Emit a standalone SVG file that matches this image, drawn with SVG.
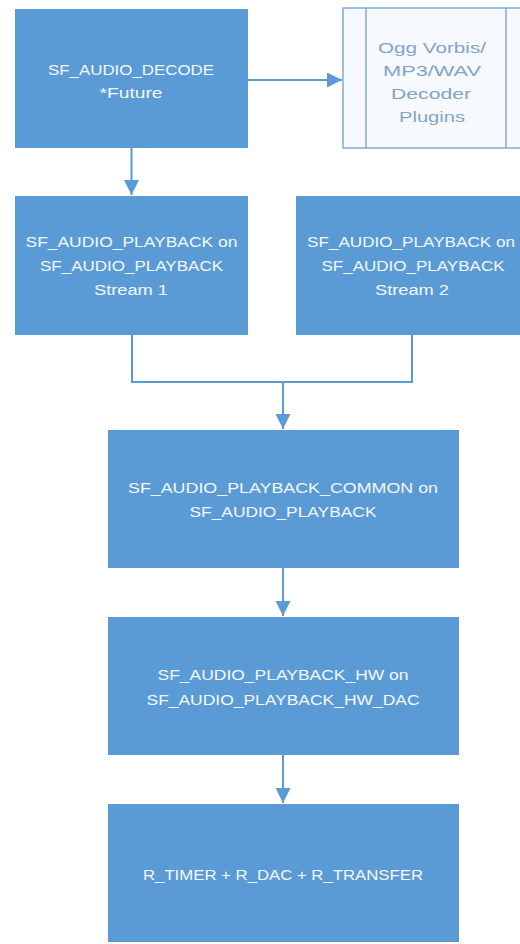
<svg xmlns="http://www.w3.org/2000/svg" width="520" height="944" viewBox="0 0 520 944">
  <style>
    .box { fill: #5b9bd5; }
    .lbl { font-family: "Liberation Sans", Arial, sans-serif; font-size: 14px; fill: #f4f8fc; text-anchor: middle; }
    .plug { fill: #f6f9fd; stroke: #6f9fd3; stroke-width: 1.3; }
    .plbl { font-family: "Liberation Sans", Arial, sans-serif; font-size: 14px; fill: #84a3c8; text-anchor: middle; }
    .wire { fill: none; stroke: #5b9bd5; stroke-width: 2; }
  </style>
  <defs>
    <marker id="arrow" viewBox="0 0 10 10" refX="10" refY="5" markerWidth="7.5" markerHeight="7.5" orient="auto" markerUnits="strokeWidth">
      <path d="M0,0 L10,5 L0,10 Z" fill="#5b9bd5"/>
    </marker>
  </defs>
  <rect width="520" height="944" fill="#ffffff"/>

  <g id="decode">
    <rect class="box" x="15" y="9" width="233" height="139"/>
    <text class="lbl" x="131" y="75" textLength="166" lengthAdjust="spacingAndGlyphs">SF_AUDIO_DECODE</text>
    <text class="lbl" x="131" y="98" textLength="63" lengthAdjust="spacingAndGlyphs">*Future</text>
  </g>

  <g id="plugins">
    <rect class="plug" x="343" y="8" width="200" height="140"/>
    <line class="plug" x1="366" y1="8" x2="366" y2="148"/>
    <line class="plug" x1="506" y1="8" x2="506" y2="148"/>
    <text class="plbl" x="432" y="53" textLength="108" lengthAdjust="spacingAndGlyphs">Ogg Vorbis/</text>
    <text class="plbl" x="432" y="76" textLength="98" lengthAdjust="spacingAndGlyphs">MP3/WAV</text>
    <text class="plbl" x="431" y="99" textLength="80" lengthAdjust="spacingAndGlyphs">Decoder</text>
    <text class="plbl" x="432" y="122" textLength="66" lengthAdjust="spacingAndGlyphs">Plugins</text>
  </g>

  <g id="stream1">
    <rect class="box" x="15" y="196" width="233" height="139"/>
    <text class="lbl" x="131.5" y="247" textLength="212" lengthAdjust="spacingAndGlyphs">SF_AUDIO_PLAYBACK on</text>
    <text class="lbl" x="131.5" y="271" textLength="183" lengthAdjust="spacingAndGlyphs">SF_AUDIO_PLAYBACK</text>
    <text class="lbl" x="131" y="295" textLength="74" lengthAdjust="spacingAndGlyphs">Stream 1</text>
  </g>

  <g id="stream2">
    <rect class="box" x="296" y="196" width="233" height="139"/>
    <text class="lbl" x="411" y="247" textLength="208" lengthAdjust="spacingAndGlyphs">SF_AUDIO_PLAYBACK on</text>
    <text class="lbl" x="413" y="271" textLength="183" lengthAdjust="spacingAndGlyphs">SF_AUDIO_PLAYBACK</text>
    <text class="lbl" x="412" y="295" textLength="74" lengthAdjust="spacingAndGlyphs">Stream 2</text>
  </g>

  <g id="common">
    <rect class="box" x="108" y="430" width="351" height="138"/>
    <text class="lbl" x="283" y="493" textLength="310" lengthAdjust="spacingAndGlyphs">SF_AUDIO_PLAYBACK_COMMON on</text>
    <text class="lbl" x="283" y="517" textLength="187" lengthAdjust="spacingAndGlyphs">SF_AUDIO_PLAYBACK</text>
  </g>

  <g id="hw">
    <rect class="box" x="108" y="617" width="351" height="138"/>
    <text class="lbl" x="283" y="680" textLength="251" lengthAdjust="spacingAndGlyphs">SF_AUDIO_PLAYBACK_HW on</text>
    <text class="lbl" x="283" y="705" textLength="273" lengthAdjust="spacingAndGlyphs">SF_AUDIO_PLAYBACK_HW_DAC</text>
  </g>

  <g id="drivers">
    <rect class="box" x="108" y="804" width="351" height="138"/>
    <text class="lbl" x="283" y="880" textLength="280" lengthAdjust="spacingAndGlyphs">R_TIMER + R_DAC + R_TRANSFER</text>
  </g>

  <g id="connectors">
    <path class="wire" d="M248,80 H342" marker-end="url(#arrow)"/>
    <path class="wire" d="M131.5,148 V195" marker-end="url(#arrow)"/>
    <path class="wire" d="M132,335 V382 H412 V335"/>
    <path class="wire" d="M283,382 V429" marker-end="url(#arrow)"/>
    <path class="wire" d="M283,568 V616" marker-end="url(#arrow)"/>
    <path class="wire" d="M283,755 V803" marker-end="url(#arrow)"/>
  </g>
</svg>
